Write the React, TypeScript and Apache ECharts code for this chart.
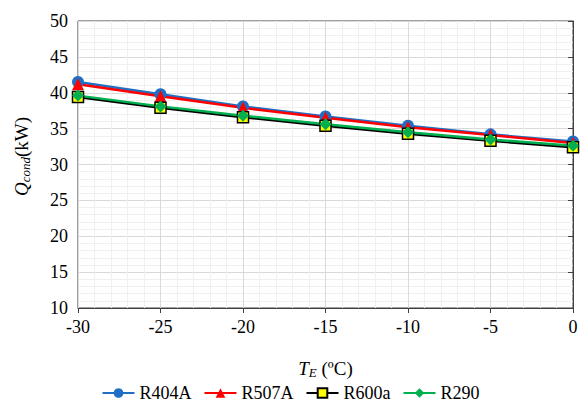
import React, { useEffect, useRef } from "react";
import * as echarts from "echarts";

const temps = [-30, -25, -20, -15, -10, -5, 0];
const r404a = [41.5, 39.8, 38.1, 36.7, 35.4, 34.2, 33.2];
const r507a = [41.2, 39.5, 37.9, 36.5, 35.2, 34.1, 33.0];
const r600a = [39.4, 37.9, 36.6, 35.4, 34.3, 33.3, 32.4];
const r290 = [39.6, 38.1, 36.8, 35.6, 34.5, 33.5, 32.6];

const FONT = "Liberation Serif";

export default function App() {
  const ref = useRef<HTMLDivElement>(null);
  useEffect(() => {
    const chart = echarts.init(ref.current!, undefined, { renderer: "svg" });
    const mk = (name: string, data: number[], color: string, symbol: string, size: number, fill: string, border: string, bw: number) => ({
      name,
      type: "line",
      data: temps.map((t, i) => [t, data[i]]),
      symbol,
      symbolSize: size,
      lineStyle: { color, width: 2.5 },
      itemStyle: { color: fill, borderColor: border, borderWidth: bw },
      color,
    });
    const rich = {
      i: { fontFamily: FONT, fontStyle: "italic", fontSize: 19, color: "#000" },
      s: { fontFamily: FONT, fontStyle: "italic", fontSize: 13, color: "#000", padding: [8, 0, 0, 0] },
      n: { fontFamily: FONT, fontSize: 19, color: "#000" },
    };
    chart.setOption({
      animation: false,
      backgroundColor: "#ffffff",
      textStyle: { fontFamily: FONT },
      grid: { left: 78, right: 8, top: 21, bottom: 95, show: true, borderColor: "#404040", borderWidth: 1 },
      legend: {
        top: 379,
        left: "center",
        itemWidth: 32,
        itemHeight: 12,
        itemGap: 12,
        textStyle: { fontFamily: FONT, fontSize: 18, color: "#000" },
        data: ["R404A", "R507A", "R600a", "R290"],
      },
      xAxis: {
        type: "value",
        min: -30,
        max: 0,
        interval: 5,
        name: "{i|T}{s|E}{n| (ºC)}",
        nameLocation: "middle",
        nameGap: 50,
        nameTextStyle: { rich },
        axisLine: { show: true, onZero: false, lineStyle: { color: "#404040", width: 1 } },
        axisTick: { show: true, length: 5, lineStyle: { color: "#404040" } },
        axisLabel: { fontFamily: FONT, fontSize: 18, color: "#000", margin: 10 },
        splitLine: { show: true, lineStyle: { color: "#d9d9d9", width: 1 } },
        minorTick: { show: false, splitNumber: 5 },
        minorSplitLine: { show: true, lineStyle: { color: "#f0f0f0", width: 1 } },
      },
      yAxis: {
        type: "value",
        min: 10,
        max: 50,
        interval: 5,
        name: "{i|Q}{s|cond}{n|(kW)}",
        nameLocation: "middle",
        nameGap: 46,
        nameTextStyle: { rich, padding: [0, 0, 0, 16] },
        axisLine: { show: true, lineStyle: { color: "#404040", width: 1 } },
        axisTick: { show: true, length: 5, lineStyle: { color: "#404040" } },
        axisLabel: { fontFamily: FONT, fontSize: 18, color: "#000", margin: 10 },
        splitLine: { show: true, lineStyle: { color: "#d9d9d9", width: 1 } },
        minorTick: { show: false, splitNumber: 5 },
        minorSplitLine: { show: true, lineStyle: { color: "#f0f0f0", width: 1 } },
      },
      series: [
        mk("R404A", r404a, "#1f6fc5", "circle", 12, "#1f6fc5", "#1f6fc5", 0),
        mk("R507A", r507a, "#ff0000", "triangle", 12, "#ff0000", "#ff0000", 0),
        mk("R600a", r600a, "#000000", "rect", 11, "#ffff00", "#000000", 1.5),
        mk("R290", r290, "#00b050", "diamond", 12, "#00b050", "#00b050", 0),
      ],
    });
    return () => chart.dispose();
  }, []);
  return <div ref={ref} style={{ width: 581, height: 403, position: "absolute", left: 0, top: 0 }} />;
}
